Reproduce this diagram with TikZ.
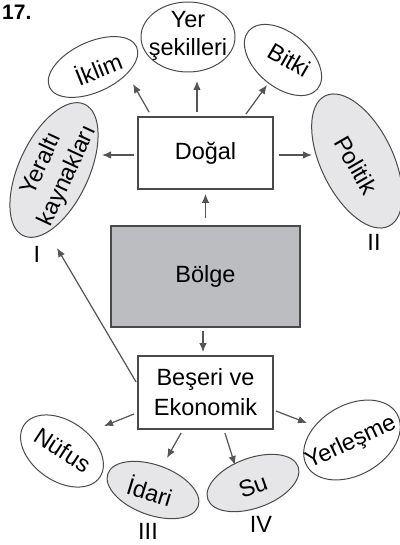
\documentclass[tikz,border=0pt]{standalone}
\usepackage{fontspec}
\setmainfont{Liberation Sans}
\usetikzlibrary{arrows.meta,shapes.geometric}
\definecolor{lineg}{HTML}{4A4A4A}
\definecolor{arrg}{HTML}{555555}
\definecolor{ellfill}{HTML}{E6E6E8}
\definecolor{boxfill}{HTML}{BCBDC0}
\tikzset{
  boxnode/.style={draw=lineg, line width=1.8pt, minimum width=135pt, minimum height=72pt, inner sep=0pt, align=center},
  ellnode/.style={ellipse, draw=lineg, line width=1pt, inner sep=0pt},
  ellw/.style={ellnode, fill=white},
  ellgr/.style={ellnode, fill=ellfill},
  txt/.style={inner sep=0pt, align=center},
  arr/.style={draw=arrg, line width=1.2pt, -{Latex[length=9pt,width=7.5pt]}, fill=arrg},
  numlab/.style={inner sep=0pt}
}
\begin{document}
\begin{tikzpicture}[x=1pt, y=-1pt, font=\fontsize{23.5}{28.5}\selectfont]
\useasboundingbox (0,0) rectangle (399,545);

% title
\node[inner sep=0pt, anchor=base west, font=\fontsize{21}{24}\selectfont\bfseries] (title) at (2,20) {17.};

% boxes
\node[boxnode, fill=white] (dogal) at (205.5,153) {Doğal};
\node[boxnode, fill=boxfill, minimum width=189pt, minimum height=101pt] (bolge) at (205.5,276.5) {Bölge};
\node[boxnode, fill=white, minimum height=73pt, font=\fontsize{23.5}{30}\selectfont] (beseri) at (205.5,392.5) {Beşeri ve\\Ekonomik};

% ellipses (top)
\node[ellw, minimum width=96pt, minimum height=50pt, rotate=25] (iklim) at (93,67) {};
\node[txt, rotate=22] (iklimT) at (98,68) {İklim};
\node[ellw, minimum width=94pt, minimum height=70pt] (yer) at (188,37) {};
\node[txt] (yerT) at (188,36) {Yer\\şekilleri};
\node[ellw, minimum width=90pt, minimum height=54pt, rotate=-40] (bitki) at (283,60) {};
\node[txt, rotate=-30] (bitkiT) at (289,60) {Bitki};
\node[ellgr, minimum width=145pt, minimum height=70pt, rotate=65] (yeralti) at (54,170) {};
\node[txt, rotate=65] (yeraltiT) at (55,170) {Yeraltı\\kaynakları};
\node[ellgr, minimum width=145pt, minimum height=72pt, rotate=-64] (politik) at (357,161) {};
\node[txt, rotate=-60] (politikT) at (356,165) {Politik};

% ellipses (bottom)
\node[ellw, minimum width=92pt, minimum height=60pt, rotate=-35] (nufus) at (62,451) {};
\node[txt, rotate=-33] (nufusT) at (63,450) {Nüfus};
\node[ellgr, minimum width=96pt, minimum height=50pt, rotate=-20] (idari) at (153,490) {};
\node[txt, rotate=-17] (idariT) at (150,491) {İdari};
\node[ellgr, minimum width=96pt, minimum height=50pt, rotate=20] (su) at (253,483) {};
\node[txt, rotate=20] (suT) at (253,486) {Su};
\node[ellw, minimum width=104pt, minimum height=70pt, rotate=30] (yerlesme) at (352,440) {};
\node[txt, rotate=25] (yerlesmeT) at (351,443) {Yerleşme};

% numerals
\node[numlab] (n1) at (37,254.5) {I};
\node[numlab] (n2) at (374,242.5) {II};
\node[numlab] (n3) at (148,531) {III};
\node[numlab] (n4) at (261,524) {IV};

% arrow tip coordinates
\coordinate (tIklim) at (133,84);
\coordinate (tYer) at (197,81);
\coordinate (tBitki) at (267,85);
\coordinate (tYeralti) at (102,155);
\coordinate (tPolitik) at (312,155);
\coordinate (tI) at (57,248);
\coordinate (tNufus) at (104,426);
\coordinate (tIdari) at (167,458);
\coordinate (tSu) at (235,465);
\coordinate (tYerlesme) at (307,423);

% arrows
\draw[arr] ([xshift=12pt,yshift=4pt]dogal.north west) -- (tIklim);
\draw[arr] ([xshift=-8.5pt,yshift=4pt]dogal.north) -- (tYer);
\draw[arr] ([xshift=-28pt,yshift=2pt]dogal.north east) -- (tBitki);
\draw[arr] ([xshift=-3pt,yshift=-2pt]dogal.west) -- (tYeralti);
\draw[arr] ([xshift=5pt,yshift=-2pt]dogal.east) -- (tPolitik);
\draw[arr] ([yshift=7pt]bolge.north) -- ([yshift=-4pt]dogal.south);
\draw[arr] ([xshift=-2.5pt,yshift=-3pt]bolge.south) -- ([xshift=-2.5pt,yshift=3pt]beseri.north);
\draw[arr] ([xshift=-1pt,yshift=10.5pt]beseri.west) -- (tI);
\draw[arr] ([xshift=-3pt,yshift=-21.5pt]beseri.west) -- (tNufus);
\draw[arr] ([xshift=44pt,yshift=-3pt]beseri.south west) -- (tIdari);
\draw[arr] ([xshift=-49pt,yshift=-3pt]beseri.south east) -- (tSu);
\draw[arr] ([xshift=2pt,yshift=-18.5pt]beseri.east) -- (tYerlesme);
\end{tikzpicture}
\end{document}
